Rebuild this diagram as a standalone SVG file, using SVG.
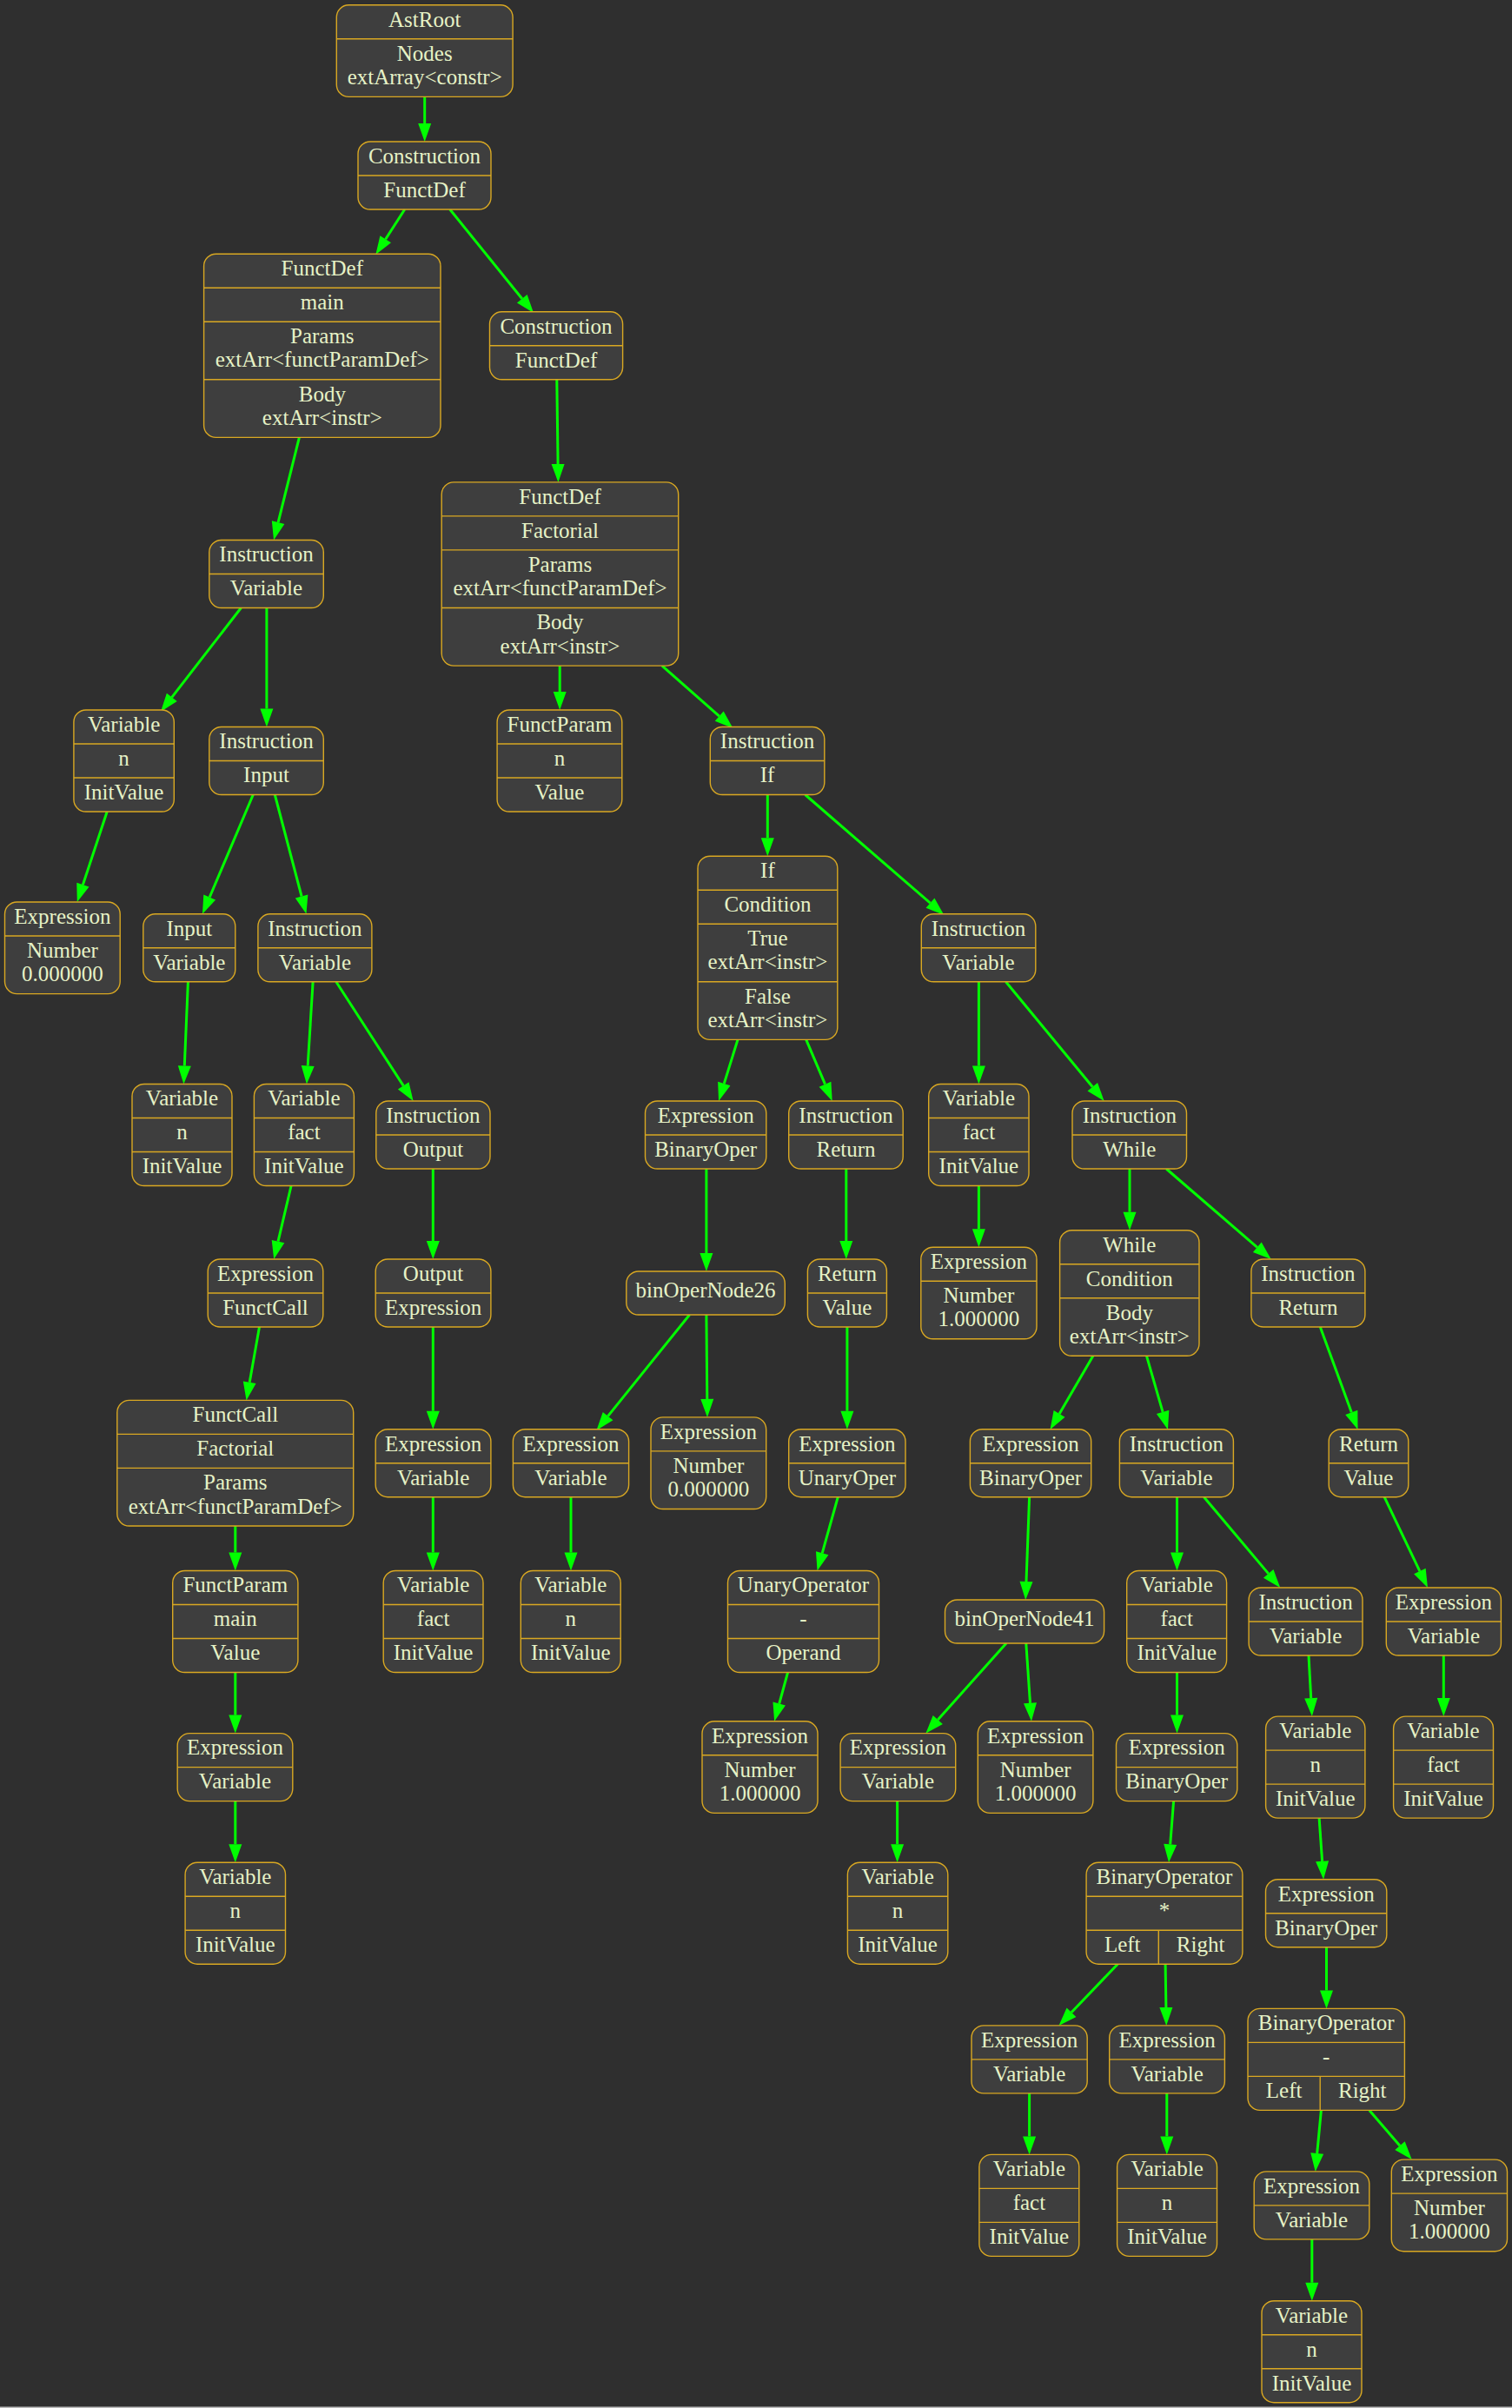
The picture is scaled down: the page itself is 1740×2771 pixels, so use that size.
<svg xmlns="http://www.w3.org/2000/svg" width="1740" height="2771" viewBox="0 0 1740 2771">
<defs>
<style>
.nd rect{fill:#3e3e3e;stroke:#d9a822;stroke-width:1.4}
.nd line{stroke:#d9a822;stroke-width:1.4}
.nd text{font-family:"Liberation Serif","Times New Roman",serif;font-size:25px;fill:#e6f2c6;text-anchor:middle;transform:translateY(-1.3px)}
.edges line{stroke:#00ff00;stroke-width:3;fill:none;marker-end:url(#ah)}
</style>
<marker id="ah" markerUnits="userSpaceOnUse" markerWidth="22" markerHeight="16" viewBox="0 -8 22 16" refX="0" refY="0" orient="auto" overflow="visible"><path d="M0,-7.5 L21,0 L0,7.5 Z" fill="#00ff00"/></marker>
</defs>
<rect x="0" y="0" width="1740" height="2771" fill="#2f2f2f"/>
<rect x="0" y="2769.5" width="1740" height="1.5" fill="#bdbdbd"/>

<g class="edges">
<line x1="488.7" y1="111.6" x2="488.7" y2="142"/>
<line x1="465.7" y1="241" x2="443.7" y2="275.3"/>
<line x1="517.8" y1="241" x2="600.8" y2="343.7"/>
<line x1="640.8" y1="436.8" x2="642.1" y2="534"/>
<line x1="344.4" y1="503.4" x2="320.1" y2="601.1"/>
<line x1="277.4" y1="699.5" x2="197.8" y2="802.3"/>
<line x1="306.9" y1="699.5" x2="306.9" y2="815.5"/>
<line x1="123.2" y1="934" x2="95.4" y2="1018.1"/>
<line x1="291.3" y1="914.5" x2="241.2" y2="1032.5"/>
<line x1="316.3" y1="914.5" x2="347.1" y2="1031.5"/>
<line x1="216.4" y1="1129.8" x2="212.3" y2="1226.5"/>
<line x1="360.1" y1="1129.8" x2="354.2" y2="1226.5"/>
<line x1="386.8" y1="1129.8" x2="464.2" y2="1249.4"/>
<line x1="335.1" y1="1364.5" x2="320" y2="1428.6"/>
<line x1="498.3" y1="1345" x2="498.3" y2="1428"/>
<line x1="298.5" y1="1527" x2="287.2" y2="1590.7"/>
<line x1="498.3" y1="1527" x2="498.3" y2="1623.7"/>
<line x1="270.8" y1="1756" x2="270.8" y2="1786.5"/>
<line x1="498.3" y1="1722.7" x2="498.3" y2="1786.5"/>
<line x1="270.8" y1="1924.5" x2="270.8" y2="1973.6"/>
<line x1="270.8" y1="2072.6" x2="270.8" y2="2122.2"/>
<line x1="644.2" y1="766.1" x2="644.2" y2="796"/>
<line x1="761.9" y1="766.1" x2="827.7" y2="824.1"/>
<line x1="883.3" y1="914.5" x2="883.3" y2="964.2"/>
<line x1="926.6" y1="914.5" x2="1070.5" y2="1039.2"/>
<line x1="849" y1="1196.4" x2="833.3" y2="1246.9"/>
<line x1="927.7" y1="1196.4" x2="949.5" y2="1247.7"/>
<line x1="1126.4" y1="1129.8" x2="1126.4" y2="1226.5"/>
<line x1="1157.5" y1="1129.8" x2="1257.3" y2="1250.8"/>
<line x1="812.9" y1="1345" x2="812.9" y2="1442"/>
<line x1="973.8" y1="1345" x2="973.8" y2="1428"/>
<line x1="1126.4" y1="1364.5" x2="1126.4" y2="1414.2"/>
<line x1="1300" y1="1345" x2="1300" y2="1394.7"/>
<line x1="1342.2" y1="1345" x2="1446.8" y2="1435.3"/>
<line x1="793.5" y1="1513" x2="699.6" y2="1629.6"/>
<line x1="812.9" y1="1513" x2="813.8" y2="1609.9"/>
<line x1="974.9" y1="1527" x2="974.9" y2="1623.7"/>
<line x1="1257.9" y1="1560.3" x2="1219.1" y2="1626.9"/>
<line x1="1319.5" y1="1560.3" x2="1338.1" y2="1624.8"/>
<line x1="1519.3" y1="1527" x2="1555.3" y2="1625.3"/>
<line x1="657" y1="1722.7" x2="657" y2="1786.5"/>
<line x1="964.3" y1="1722.7" x2="946.2" y2="1787.3"/>
<line x1="1184.6" y1="1722.7" x2="1181" y2="1820"/>
<line x1="1354.5" y1="1722.7" x2="1354.5" y2="1786.5"/>
<line x1="1385.5" y1="1722.7" x2="1459.7" y2="1810.9"/>
<line x1="1593.1" y1="1722.7" x2="1633.9" y2="1808.1"/>
<line x1="906.6" y1="1924.5" x2="896.7" y2="1960.6"/>
<line x1="1158" y1="1891" x2="1079.3" y2="1979"/>
<line x1="1180.8" y1="1891" x2="1185.5" y2="1959.8"/>
<line x1="1354.5" y1="1924.5" x2="1354.5" y2="1973.6"/>
<line x1="1506" y1="1905" x2="1508.7" y2="1954.1"/>
<line x1="1661.3" y1="1905" x2="1661.3" y2="1954.1"/>
<line x1="1032.6" y1="2072.6" x2="1032.6" y2="2122.2"/>
<line x1="1350.6" y1="2072.6" x2="1346.7" y2="2122.3"/>
<line x1="1518.1" y1="2092.1" x2="1521.6" y2="2141.8"/>
<line x1="1286.2" y1="2260.2" x2="1233" y2="2315.8"/>
<line x1="1341.1" y1="2260.2" x2="1341.9" y2="2310"/>
<line x1="1526.5" y1="2240.7" x2="1526.5" y2="2290.4"/>
<line x1="1184.6" y1="2408.9" x2="1184.6" y2="2458.4"/>
<line x1="1342.8" y1="2408.9" x2="1342.8" y2="2458.4"/>
<line x1="1520.4" y1="2428.4" x2="1515.7" y2="2478"/>
<line x1="1575.9" y1="2428.4" x2="1611" y2="2469.2"/>
<line x1="1509.8" y1="2576.9" x2="1509.8" y2="2626.7"/>
</g>

<g id="n1" class="nd"><rect x="387.3" y="5.8" width="202.8" height="105.6" rx="14"/><line x1="387.3" y1="44.8" x2="590.1" y2="44.8"/><text x="488.7" y="32">AstRoot</text><text x="488.7" y="71">Nodes</text><text x="488.7" y="98.4">extArray&lt;constr&gt;</text></g>
<g id="n2" class="nd"><rect x="412" y="163" width="153" height="78" rx="14"/><line x1="412" y1="202" x2="565" y2="202"/><text x="488.5" y="189.2">Construction</text><text x="488.5" y="228.2">FunctDef</text></g>
<g id="n3" class="nd"><rect x="234.6" y="292.2" width="272.4" height="211.2" rx="14"/><line x1="234.6" y1="331.2" x2="507" y2="331.2"/><line x1="234.6" y1="370.2" x2="507" y2="370.2"/><line x1="234.6" y1="436.8" x2="507" y2="436.8"/><text x="370.8" y="318.4">FunctDef</text><text x="370.8" y="357.4">main</text><text x="370.8" y="396.4">Params</text><text x="370.8" y="423.8">extArr&lt;functParamDef&gt;</text><text x="370.8" y="463">Body</text><text x="370.8" y="490.4">extArr&lt;instr&gt;</text></g>
<g id="n4" class="nd"><rect x="563.5" y="358.8" width="153.1" height="78" rx="14"/><line x1="563.5" y1="397.8" x2="716.6" y2="397.8"/><text x="640" y="385">Construction</text><text x="640" y="424">FunctDef</text></g>
<g id="n5" class="nd"><rect x="508.2" y="554.9" width="272.5" height="211.2" rx="14"/><line x1="508.2" y1="593.9" x2="780.7" y2="593.9"/><line x1="508.2" y1="632.9" x2="780.7" y2="632.9"/><line x1="508.2" y1="699.5" x2="780.7" y2="699.5"/><text x="644.5" y="581.1">FunctDef</text><text x="644.5" y="620.1">Factorial</text><text x="644.5" y="659.1">Params</text><text x="644.5" y="686.5">extArr&lt;functParamDef&gt;</text><text x="644.5" y="725.7">Body</text><text x="644.5" y="753.1">extArr&lt;instr&gt;</text></g>
<g id="n6" class="nd"><rect x="240.8" y="621.5" width="131.5" height="78" rx="14"/><line x1="240.8" y1="660.5" x2="372.3" y2="660.5"/><text x="306.5" y="647.7">Instruction</text><text x="306.5" y="686.7">Variable</text></g>
<g id="n7" class="nd"><rect x="84.9" y="817" width="115.4" height="117" rx="14"/><line x1="84.9" y1="856" x2="200.3" y2="856"/><line x1="84.9" y1="895" x2="200.3" y2="895"/><text x="142.6" y="843.2">Variable</text><text x="142.6" y="882.2">n</text><text x="142.6" y="921.2">InitValue</text></g>
<g id="n8" class="nd"><rect x="240.8" y="836.5" width="131.5" height="78" rx="14"/><line x1="240.8" y1="875.5" x2="372.3" y2="875.5"/><text x="306.5" y="862.7">Instruction</text><text x="306.5" y="901.7">Input</text></g>
<g id="n23" class="nd"><rect x="572.1" y="817" width="143.7" height="117" rx="14"/><line x1="572.1" y1="856" x2="715.8" y2="856"/><line x1="572.1" y1="895" x2="715.8" y2="895"/><text x="644" y="843.2">FunctParam</text><text x="644" y="882.2">n</text><text x="644" y="921.2">Value</text></g>
<g id="n24" class="nd"><rect x="817.3" y="836.5" width="131.5" height="78" rx="14"/><line x1="817.3" y1="875.5" x2="948.8" y2="875.5"/><text x="883" y="862.7">Instruction</text><text x="883" y="901.7">If</text></g>
<g id="n9" class="nd"><rect x="5.5" y="1038" width="132.7" height="105.6" rx="14"/><line x1="5.5" y1="1077" x2="138.2" y2="1077"/><text x="71.9" y="1064.2">Expression</text><text x="71.9" y="1103.2">Number</text><text x="71.9" y="1130.6">0.000000</text></g>
<g id="n10" class="nd"><rect x="164.8" y="1051.8" width="106" height="78" rx="14"/><line x1="164.8" y1="1090.8" x2="270.8" y2="1090.8"/><text x="217.8" y="1078">Input</text><text x="217.8" y="1117">Variable</text></g>
<g id="n11" class="nd"><rect x="296.9" y="1051.8" width="131" height="78" rx="14"/><line x1="296.9" y1="1090.8" x2="427.9" y2="1090.8"/><text x="362.4" y="1078">Instruction</text><text x="362.4" y="1117">Variable</text></g>
<g id="n25" class="nd"><rect x="803" y="985.2" width="160.8" height="211.2" rx="14"/><line x1="803" y1="1024.2" x2="963.8" y2="1024.2"/><line x1="803" y1="1063.2" x2="963.8" y2="1063.2"/><line x1="803" y1="1129.8" x2="963.8" y2="1129.8"/><text x="883.4" y="1011.4">If</text><text x="883.4" y="1050.4">Condition</text><text x="883.4" y="1089.4">True</text><text x="883.4" y="1116.8">extArr&lt;instr&gt;</text><text x="883.4" y="1156">False</text><text x="883.4" y="1183.4">extArr&lt;instr&gt;</text></g>
<g id="n26" class="nd"><rect x="1060.3" y="1051.8" width="131.5" height="78" rx="14"/><line x1="1060.3" y1="1090.8" x2="1191.8" y2="1090.8"/><text x="1126" y="1078">Instruction</text><text x="1126" y="1117">Variable</text></g>

<g id="n12" class="nd"><rect x="152" y="1247.5" width="115" height="117" rx="14"/><line x1="152" y1="1286.5" x2="267" y2="1286.5"/><line x1="152" y1="1325.5" x2="267" y2="1325.5"/><text x="209.5" y="1273.7">Variable</text><text x="209.5" y="1312.7">n</text><text x="209.5" y="1351.7">InitValue</text></g>
<g id="n13" class="nd"><rect x="292.4" y="1247.5" width="115" height="117" rx="14"/><line x1="292.4" y1="1286.5" x2="407.4" y2="1286.5"/><line x1="292.4" y1="1325.5" x2="407.4" y2="1325.5"/><text x="349.9" y="1273.7">Variable</text><text x="349.9" y="1312.7">fact</text><text x="349.9" y="1351.7">InitValue</text></g>
<g id="n14" class="nd"><rect x="432.8" y="1267" width="131.2" height="78" rx="14"/><line x1="432.8" y1="1306" x2="564" y2="1306"/><text x="498.4" y="1293.2">Instruction</text><text x="498.4" y="1332.2">Output</text></g>
<g id="n27" class="nd"><rect x="742.5" y="1267" width="139.3" height="78" rx="14"/><line x1="742.5" y1="1306" x2="881.8" y2="1306"/><text x="812.2" y="1293.2">Expression</text><text x="812.2" y="1332.2">BinaryOper</text></g>
<g id="n28" class="nd"><rect x="907.7" y="1267" width="131.5" height="78" rx="14"/><line x1="907.7" y1="1306" x2="1039.2" y2="1306"/><text x="973.5" y="1293.2">Instruction</text><text x="973.5" y="1332.2">Return</text></g>
<g id="n29" class="nd"><rect x="1068.7" y="1247.5" width="115.3" height="117" rx="14"/><line x1="1068.7" y1="1286.5" x2="1184" y2="1286.5"/><line x1="1068.7" y1="1325.5" x2="1184" y2="1325.5"/><text x="1126.4" y="1273.7">Variable</text><text x="1126.4" y="1312.7">fact</text><text x="1126.4" y="1351.7">InitValue</text></g>
<g id="n30" class="nd"><rect x="1234" y="1267" width="131.5" height="78" rx="14"/><line x1="1234" y1="1306" x2="1365.5" y2="1306"/><text x="1299.8" y="1293.2">Instruction</text><text x="1299.8" y="1332.2">While</text></g>

<g id="n15" class="nd"><rect x="239.2" y="1449" width="132.6" height="78" rx="14"/><line x1="239.2" y1="1488" x2="371.8" y2="1488"/><text x="305.5" y="1475.2">Expression</text><text x="305.5" y="1514.2">FunctCall</text></g>
<g id="n16" class="nd"><rect x="432.2" y="1449" width="132.7" height="78" rx="14"/><line x1="432.2" y1="1488" x2="564.9" y2="1488"/><text x="498.6" y="1475.2">Output</text><text x="498.6" y="1514.2">Expression</text></g>
<g id="n31" class="nd"><rect x="720.8" y="1463" width="182.5" height="50" rx="14"/><text x="812.1" y="1494.7">binOperNode26</text></g>
<g id="n32" class="nd"><rect x="929.4" y="1449" width="91" height="78" rx="14"/><line x1="929.4" y1="1488" x2="1020.4" y2="1488"/><text x="974.9" y="1475.2">Return</text><text x="974.9" y="1514.2">Value</text></g>
<g id="n33" class="nd"><rect x="1059.8" y="1435.2" width="133.2" height="105.6" rx="14"/><line x1="1059.8" y1="1474.2" x2="1193" y2="1474.2"/><text x="1126.4" y="1461.4">Expression</text><text x="1126.4" y="1500.4">Number</text><text x="1126.4" y="1527.8">1.000000</text></g>
<g id="n34" class="nd"><rect x="1219.6" y="1415.7" width="160.4" height="144.6" rx="14"/><line x1="1219.6" y1="1454.7" x2="1380" y2="1454.7"/><line x1="1219.6" y1="1493.7" x2="1380" y2="1493.7"/><text x="1299.8" y="1441.9">While</text><text x="1299.8" y="1480.9">Condition</text><text x="1299.8" y="1519.9">Body</text><text x="1299.8" y="1547.3">extArr&lt;instr&gt;</text></g>
<g id="n35" class="nd"><rect x="1439.9" y="1449" width="131" height="78" rx="14"/><line x1="1439.9" y1="1488" x2="1570.9" y2="1488"/><text x="1505.4" y="1475.2">Instruction</text><text x="1505.4" y="1514.2">Return</text></g>

<g id="n17" class="nd"><rect x="134.8" y="1611.4" width="271.9" height="144.6" rx="14"/><line x1="134.8" y1="1650.4" x2="406.7" y2="1650.4"/><line x1="134.8" y1="1689.4" x2="406.7" y2="1689.4"/><text x="270.8" y="1637.6">FunctCall</text><text x="270.8" y="1676.6">Factorial</text><text x="270.8" y="1715.6">Params</text><text x="270.8" y="1743">extArr&lt;functParamDef&gt;</text></g>
<g id="n18" class="nd"><rect x="432.2" y="1644.7" width="132.7" height="78" rx="14"/><line x1="432.2" y1="1683.7" x2="564.9" y2="1683.7"/><text x="498.6" y="1670.9">Expression</text><text x="498.6" y="1709.9">Variable</text></g>
<g id="n36" class="nd"><rect x="590.4" y="1644.7" width="133.2" height="78" rx="14"/><line x1="590.4" y1="1683.7" x2="723.6" y2="1683.7"/><text x="657" y="1670.9">Expression</text><text x="657" y="1709.9">Variable</text></g>
<g id="n37" class="nd"><rect x="749" y="1630.9" width="132.7" height="105.6" rx="14"/><line x1="749" y1="1669.9" x2="881.7" y2="1669.9"/><text x="815.4" y="1657.1">Expression</text><text x="815.4" y="1696.1">Number</text><text x="815.4" y="1723.5">0.000000</text></g>
<g id="n38" class="nd"><rect x="907.7" y="1644.7" width="134.3" height="78" rx="14"/><line x1="907.7" y1="1683.7" x2="1042" y2="1683.7"/><text x="974.9" y="1670.9">Expression</text><text x="974.9" y="1709.9">UnaryOper</text></g>
<g id="n39" class="nd"><rect x="1116.4" y="1644.7" width="139.3" height="78" rx="14"/><line x1="1116.4" y1="1683.7" x2="1255.7" y2="1683.7"/><text x="1186.1" y="1670.9">Expression</text><text x="1186.1" y="1709.9">BinaryOper</text></g>
<g id="n40" class="nd"><rect x="1288.4" y="1644.7" width="131" height="78" rx="14"/><line x1="1288.4" y1="1683.7" x2="1419.4" y2="1683.7"/><text x="1353.9" y="1670.9">Instruction</text><text x="1353.9" y="1709.9">Variable</text></g>
<g id="n41" class="nd"><rect x="1529.2" y="1644.7" width="91.6" height="78" rx="14"/><line x1="1529.2" y1="1683.7" x2="1620.8" y2="1683.7"/><text x="1575" y="1670.9">Return</text><text x="1575" y="1709.9">Value</text></g>

<g id="n19" class="nd"><rect x="198.7" y="1807.5" width="144.2" height="117" rx="14"/><line x1="198.7" y1="1846.5" x2="342.9" y2="1846.5"/><line x1="198.7" y1="1885.5" x2="342.9" y2="1885.5"/><text x="270.8" y="1833.7">FunctParam</text><text x="270.8" y="1872.7">main</text><text x="270.8" y="1911.7">Value</text></g>
<g id="n20" class="nd"><rect x="441.2" y="1807.5" width="114.8" height="117" rx="14"/><line x1="441.2" y1="1846.5" x2="556" y2="1846.5"/><line x1="441.2" y1="1885.5" x2="556" y2="1885.5"/><text x="498.6" y="1833.7">Variable</text><text x="498.6" y="1872.7">fact</text><text x="498.6" y="1911.7">InitValue</text></g>
<g id="n42" class="nd"><rect x="599.3" y="1807.5" width="114.9" height="117" rx="14"/><line x1="599.3" y1="1846.5" x2="714.2" y2="1846.5"/><line x1="599.3" y1="1885.5" x2="714.2" y2="1885.5"/><text x="656.8" y="1833.7">Variable</text><text x="656.8" y="1872.7">n</text><text x="656.8" y="1911.7">InitValue</text></g>
<g id="n43" class="nd"><rect x="837.5" y="1807.5" width="174" height="117" rx="14"/><line x1="837.5" y1="1846.5" x2="1011.5" y2="1846.5"/><line x1="837.5" y1="1885.5" x2="1011.5" y2="1885.5"/><text x="924.5" y="1833.7">UnaryOperator</text><text x="924.5" y="1872.7">-</text><text x="924.5" y="1911.7">Operand</text></g>
<g id="n47" class="nd"><rect x="1087.5" y="1841" width="183.1" height="50" rx="14"/><text x="1179" y="1872.7">binOperNode41</text></g>
<g id="n44" class="nd"><rect x="1296.7" y="1807.5" width="114.9" height="117" rx="14"/><line x1="1296.7" y1="1846.5" x2="1411.6" y2="1846.5"/><line x1="1296.7" y1="1885.5" x2="1411.6" y2="1885.5"/><text x="1354.2" y="1833.7">Variable</text><text x="1354.2" y="1872.7">fact</text><text x="1354.2" y="1911.7">InitValue</text></g>
<g id="n45" class="nd"><rect x="1437.1" y="1827" width="130.9" height="78" rx="14"/><line x1="1437.1" y1="1866" x2="1568" y2="1866"/><text x="1502.6" y="1853.2">Instruction</text><text x="1502.6" y="1892.2">Variable</text></g>
<g id="n46" class="nd"><rect x="1595.3" y="1827" width="132.1" height="78" rx="14"/><line x1="1595.3" y1="1866" x2="1727.4" y2="1866"/><text x="1661.4" y="1853.2">Expression</text><text x="1661.4" y="1892.2">Variable</text></g>

<g id="n21" class="nd"><rect x="204.2" y="1994.6" width="132.6" height="78" rx="14"/><line x1="204.2" y1="2033.6" x2="336.8" y2="2033.6"/><text x="270.5" y="2020.8">Expression</text><text x="270.5" y="2059.8">Variable</text></g>
<g id="n48" class="nd"><rect x="808" y="1980.8" width="133" height="105.6" rx="14"/><line x1="808" y1="2019.8" x2="941" y2="2019.8"/><text x="874.5" y="2007">Expression</text><text x="874.5" y="2046">Number</text><text x="874.5" y="2073.4">1.000000</text></g>
<g id="n49" class="nd"><rect x="967.1" y="1994.6" width="132.6" height="78" rx="14"/><line x1="967.1" y1="2033.6" x2="1099.7" y2="2033.6"/><text x="1033.4" y="2020.8">Expression</text><text x="1033.4" y="2059.8">Variable</text></g>
<g id="n50" class="nd"><rect x="1125.3" y="1980.8" width="132.6" height="105.6" rx="14"/><line x1="1125.3" y1="2019.8" x2="1257.9" y2="2019.8"/><text x="1191.6" y="2007">Expression</text><text x="1191.6" y="2046">Number</text><text x="1191.6" y="2073.4">1.000000</text></g>
<g id="n51" class="nd"><rect x="1284.5" y="1994.6" width="139.3" height="78" rx="14"/><line x1="1284.5" y1="2033.6" x2="1423.8" y2="2033.6"/><text x="1354.2" y="2020.8">Expression</text><text x="1354.2" y="2059.8">BinaryOper</text></g>
<g id="n52" class="nd"><rect x="1456.6" y="1975.1" width="114.3" height="117" rx="14"/><line x1="1456.6" y1="2014.1" x2="1570.9" y2="2014.1"/><line x1="1456.6" y1="2053.1" x2="1570.9" y2="2053.1"/><text x="1513.8" y="2001.3">Variable</text><text x="1513.8" y="2040.3">n</text><text x="1513.8" y="2079.3">InitValue</text></g>
<g id="n53" class="nd"><rect x="1603.6" y="1975.1" width="114.9" height="117" rx="14"/><line x1="1603.6" y1="2014.1" x2="1718.5" y2="2014.1"/><line x1="1603.6" y1="2053.1" x2="1718.5" y2="2053.1"/><text x="1661" y="2001.3">Variable</text><text x="1661" y="2040.3">fact</text><text x="1661" y="2079.3">InitValue</text></g>

<g id="n22" class="nd"><rect x="213.1" y="2143.2" width="115.4" height="117" rx="14"/><line x1="213.1" y1="2182.2" x2="328.5" y2="2182.2"/><line x1="213.1" y1="2221.2" x2="328.5" y2="2221.2"/><text x="270.8" y="2169.4">Variable</text><text x="270.8" y="2208.4">n</text><text x="270.8" y="2247.4">InitValue</text></g>
<g id="n54" class="nd"><rect x="975.4" y="2143.2" width="115.4" height="117" rx="14"/><line x1="975.4" y1="2182.2" x2="1090.8" y2="2182.2"/><line x1="975.4" y1="2221.2" x2="1090.8" y2="2221.2"/><text x="1033.1" y="2169.4">Variable</text><text x="1033.1" y="2208.4">n</text><text x="1033.1" y="2247.4">InitValue</text></g>
<g id="n55" class="nd"><rect x="1250.1" y="2143.2" width="179.8" height="117" rx="14"/><line x1="1250.1" y1="2182.2" x2="1429.9" y2="2182.2"/><line x1="1250.1" y1="2221.2" x2="1429.9" y2="2221.2"/><line x1="1333.3" y1="2221.2" x2="1333.3" y2="2260.2"/><text x="1340" y="2169.4">BinaryOperator</text><text x="1340" y="2208.4">*</text><text x="1291.7" y="2247.4">Left</text><text x="1381.6" y="2247.4">Right</text></g>
<g id="n56" class="nd"><rect x="1456.5" y="2162.7" width="139.3" height="78" rx="14"/><line x1="1456.5" y1="2201.7" x2="1595.8" y2="2201.7"/><text x="1526.2" y="2188.9">Expression</text><text x="1526.2" y="2227.9">BinaryOper</text></g>

<g id="n57" class="nd"><rect x="1118" y="2330.9" width="133.2" height="78" rx="14"/><line x1="1118" y1="2369.9" x2="1251.2" y2="2369.9"/><text x="1184.6" y="2357.1">Expression</text><text x="1184.6" y="2396.1">Variable</text></g>
<g id="n58" class="nd"><rect x="1276.7" y="2330.9" width="132.7" height="78" rx="14"/><line x1="1276.7" y1="2369.9" x2="1409.4" y2="2369.9"/><text x="1343.1" y="2357.1">Expression</text><text x="1343.1" y="2396.1">Variable</text></g>
<g id="n59" class="nd"><rect x="1436" y="2311.4" width="180.4" height="117" rx="14"/><line x1="1436" y1="2350.4" x2="1616.4" y2="2350.4"/><line x1="1436" y1="2389.4" x2="1616.4" y2="2389.4"/><line x1="1519.2" y1="2389.4" x2="1519.2" y2="2428.4"/><text x="1526.2" y="2337.6">BinaryOperator</text><text x="1526.2" y="2376.6">-</text><text x="1477.6" y="2415.6">Left</text><text x="1567.8" y="2415.6">Right</text></g>

<g id="n60" class="nd"><rect x="1126.9" y="2479.4" width="114.9" height="117" rx="14"/><line x1="1126.9" y1="2518.4" x2="1241.8" y2="2518.4"/><line x1="1126.9" y1="2557.4" x2="1241.8" y2="2557.4"/><text x="1184.4" y="2505.6">Variable</text><text x="1184.4" y="2544.6">fact</text><text x="1184.4" y="2583.6">InitValue</text></g>
<g id="n61" class="nd"><rect x="1285.6" y="2479.4" width="114.9" height="117" rx="14"/><line x1="1285.6" y1="2518.4" x2="1400.5" y2="2518.4"/><line x1="1285.6" y1="2557.4" x2="1400.5" y2="2557.4"/><text x="1343.1" y="2505.6">Variable</text><text x="1343.1" y="2544.6">n</text><text x="1343.1" y="2583.6">InitValue</text></g>
<g id="n62" class="nd"><rect x="1443.2" y="2498.9" width="132.6" height="78" rx="14"/><line x1="1443.2" y1="2537.9" x2="1575.8" y2="2537.9"/><text x="1509.5" y="2525.1">Expression</text><text x="1509.5" y="2564.1">Variable</text></g>
<g id="n63" class="nd"><rect x="1601.3" y="2485.1" width="133.2" height="105.6" rx="14"/><line x1="1601.3" y1="2524.1" x2="1734.5" y2="2524.1"/><text x="1667.9" y="2511.3">Expression</text><text x="1667.9" y="2550.3">Number</text><text x="1667.9" y="2577.7">1.000000</text></g>

<g id="n64" class="nd"><rect x="1452" y="2647.7" width="115" height="117" rx="14"/><line x1="1452" y1="2686.7" x2="1567" y2="2686.7"/><line x1="1452" y1="2725.7" x2="1567" y2="2725.7"/><text x="1509.5" y="2673.9">Variable</text><text x="1509.5" y="2712.9">n</text><text x="1509.5" y="2751.9">InitValue</text></g>
</svg>
